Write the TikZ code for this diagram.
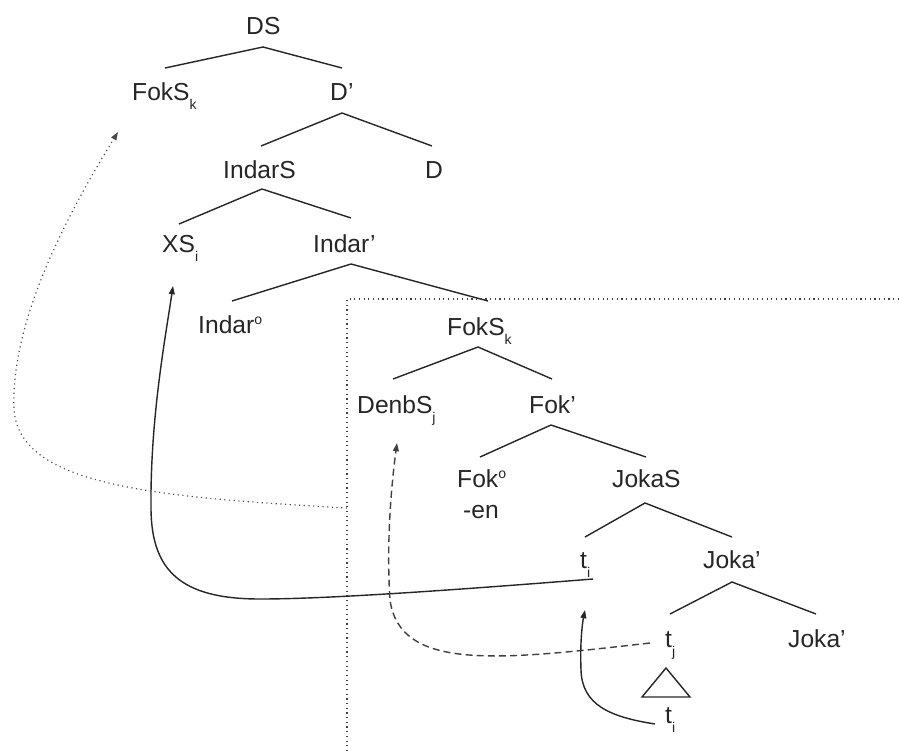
\documentclass[tikz,border=0pt]{standalone}
\usepackage{fontspec}
\setmainfont{Liberation Sans}
\usetikzlibrary{arrows.meta}
\newcommand\sbs[1]{\raisebox{-8pt}{\fontsize{12}{12}\selectfont #1}}
\newcommand\sps[1]{\raisebox{7pt}{\fontsize{12}{12}\selectfont #1}}
\tikzset{
  lbl/.style={anchor=base west, inner sep=0pt, text=black!85, font=\fontsize{21}{25}\selectfont},
  branch/.style={line width=1.2pt, black!85},
  dotbox/.style={line width=1pt, black!75, dash pattern=on 1pt off 3pt},
  tip/.style={-{Triangle[length=7pt,width=5pt]}},
  movesolid/.style={tip, line width=1.2pt, black!85},
  movedash/.style={tip, line width=1.2pt, black!75, dash pattern=on 6pt off 3.5pt},
  movedot/.style={tip, line width=1pt, black!70, dash pattern=on 1pt off 3pt},
}
\begin{document}
\begin{tikzpicture}[x=0.03cm,y=-0.03cm]
\useasboundingbox (0,0) rectangle (899,753);
% labels
\node[lbl] (ds) at (246,34) {DS};
\node[lbl] (foksk1) at (132,100) {FokS\sbs{k}};
\node[lbl] (dbar) at (330,100) {D’};
\node[lbl] (indars) at (223,178) {IndarS};
\node[lbl] (d) at (425,178) {D};
\node[lbl] (xsi) at (162,252) {XS\sbs{i}};
\node[lbl] (indarbar) at (313,252) {Indar’};
\node[lbl] (indaro) at (198,333) {Indar\sps{o}};
\node[lbl] (foksk2) at (447,335) {FokS\sbs{k}};
\node[lbl] (denbsj) at (357,413) {DenbS\sbs{j}};
\node[lbl] (fokbar) at (529,413) {Fok’};
\node[lbl] (foko) at (457,487) {Fok\sps{o}};
\node[lbl] (en) at (463,518) {-en};
\node[lbl] (jokas) at (612,487) {JokaS};
\node[lbl] (ti1) at (580,568) {t\sbs{i}};
\node[lbl] (jokabar1) at (703,568) {Joka’};
\node[lbl] (tj) at (665,647) {t\sbs{j}};
\node[lbl] (jokabar2) at (788,647) {Joka’};
\node[lbl] (ti2) at (665,723) {t\sbs{i}};
% branch points
\coordinate (a1) at (263,47);  \coordinate (l1) at (165,68);  \coordinate (r1) at (342,68);
\coordinate (a2) at (342,113); \coordinate (l2) at (261,146); \coordinate (r2) at (432,146);
\coordinate (a3) at (262,189); \coordinate (l3) at (179,224); \coordinate (r3) at (351,218);
\coordinate (a4) at (351,264); \coordinate (l4) at (232,301); \coordinate (r4) at (488,301);
\coordinate (a5) at (478,347); \coordinate (l5) at (393,379); \coordinate (r5) at (552,379);
\coordinate (a6) at (551,425); \coordinate (l6) at (480,457); \coordinate (r6) at (646,457);
\coordinate (a7) at (645,503); \coordinate (l7) at (585,537); \coordinate (r7) at (732,537);
\coordinate (a8) at (732,582); \coordinate (l8) at (670,614); \coordinate (r8) at (816,614);
\draw[branch] (l1) -- (a1) -- (r1);
\draw[branch] (l2) -- (a2) -- (r2);
\draw[branch] (l3) -- (a3) -- (r3);
\draw[branch] (l4) -- (a4) -- (r4);
\draw[branch] (l5) -- (a5) -- (r5);
\draw[branch] (l6) -- (a6) -- (r6);
\draw[branch] (l7) -- (a7) -- (r7);
\draw[branch] (l8) -- (a8) -- (r8);
% triangle
\coordinate (tra) at (666,668); \coordinate (trl) at (642,697); \coordinate (trr) at (690,697);
\draw[branch] (tra) -- (trl) -- (trr) -- cycle;
% dotted box
\coordinate (bx1) at (347,299); \coordinate (bx2) at (899,299); \coordinate (bx3) at (347,753);
\draw[dotbox] (bx2) -- (bx1) -- (bx3);
% movement arrows
\coordinate (s1) at (593,579); \coordinate (e1) at (173,286);
\draw[movesolid] (s1) .. controls (430,592) and (320,599) .. (260,599)
  .. controls (180,599) and (152,570) .. (151,510)
  .. controls (150,420) and (165,340) .. (e1);
\coordinate (s2) at (347,508); \coordinate (e2) at (118,132);
\draw[movedot] (s2) .. controls (150,497) and (20,485) .. (14,410)
  .. controls (10,320) and (70,210) .. (e2);
\coordinate (s3) at (650,643); \coordinate (e3) at (397,443);
\draw[movedash] (s3) .. controls (500,660) and (400,672) .. (390,600)
  .. controls (386,540) and (392,480) .. (e3);
\coordinate (s4) at (655,724); \coordinate (e4) at (585,610);
\draw[movesolid] (s4) .. controls (610,717) and (582,705) .. (581,670)
  .. controls (580,645) and (582,625) .. (e4);
\end{tikzpicture}
\end{document}
